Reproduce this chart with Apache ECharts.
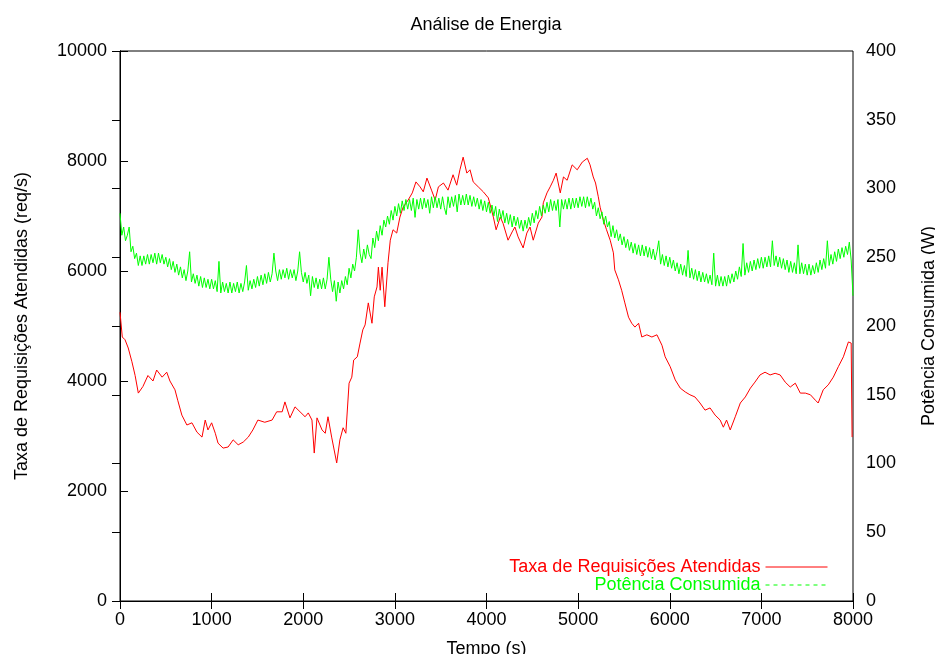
<!DOCTYPE html>
<html>
<head>
<meta charset="utf-8">
<script src="https://cdn.jsdelivr.net/npm/echarts@6/dist/echarts.min.js"></script>
<style>
html,body{margin:0;padding:0;background:#fff;}
#chart{width:935px;height:654px;}
</style>
</head>
<body>
<div id="chart"></div>
<script>
// ---- data ----
var titleText = 'Análise de Energia';
var xTicks = [0,1000,2000,3000,4000,5000,6000,7000,8000];
var yLeftTicks = [0,2000,4000,6000,8000,10000];
var yRightTicks = [0,50,100,150,200,250,300,350,400];

var reqTime = [0,25,55,90,130,165,200,250,305,360,400,460,510,545,600,630,675,730,785,840,895,930,960,1000,1040,1070,1125,1180,1235,1290,1345,1400,1450,1505,1580,1660,1710,1770,1800,1855,1910,1965,2020,2055,2095,2120,2150,2205,2240,2270,2310,2365,2400,2435,2465,2500,2530,2550,2590,2620,2650,2675,2710,2750,2775,2805,2820,2840,2860,2890,2925,2950,2980,3020,3055,3090,3145,3190,3230,3275,3310,3350,3400,3440,3475,3530,3580,3635,3675,3710,3745,3785,3820,3855,3910,3965,4020,4075,4105,4150,4180,4235,4280,4310,4345,4400,4440,4475,4510,4565,4605,4620,4660,4695,4730,4760,4805,4840,4880,4935,4990,5045,5100,5130,5165,5190,5220,5240,5275,5310,5350,5385,5400,5440,5475,5510,5550,5585,5620,5660,5695,5750,5805,5860,5915,5950,6005,6060,6115,6170,6220,6275,6330,6385,6440,6495,6550,6585,6620,6660,6715,6770,6825,6880,6930,6985,7040,7095,7150,7205,7260,7315,7370,7425,7480,7535,7590,7620,7675,7730,7785,7840,7895,7950,7980,7990];
var reqRate = [5250,4800,4750,4600,4350,4100,3780,3900,4100,4000,4200,4070,4160,4000,3840,3650,3380,3200,3240,3070,2980,3290,3110,3240,3050,2870,2780,2800,2930,2840,2890,2980,3110,3290,3250,3290,3440,3440,3620,3330,3530,3440,3350,3420,3290,2690,3330,3110,3050,3350,2980,2510,2930,3150,3050,3960,4070,4380,4440,4690,4930,5020,5420,5050,5530,5710,6070,5650,6070,5350,6150,6560,6750,6690,6980,7160,7290,7420,7620,7530,7440,7690,7470,7290,7530,7600,7470,7750,7560,7840,8070,7780,7840,7620,7530,7440,7330,6980,6750,6980,6870,6560,6710,6800,6620,6420,6690,6800,6560,6870,6980,7240,7420,7530,7650,7780,7420,7710,7650,7930,7840,7980,8050,7930,7710,7600,7350,7160,6930,6750,6560,6330,6020,5840,5650,5420,5160,5050,4980,5050,4800,4840,4800,4840,4650,4440,4260,4020,3870,3800,3750,3710,3600,3470,3510,3380,3290,3160,3290,3110,3350,3600,3710,3870,3980,4110,4160,4110,4140,4110,3980,3890,3960,3780,3780,3750,3650,3600,3840,3930,4070,4260,4440,4710,4690,2980];

// power samples every 20 s from 0 s to 7980 s, then the final sample at 8000 s
var powStep = 20;
var powWatts = [
282,266,272,262,266,  272,254,258,249,253,  244,251,244,251,245,  252,245,252,246,253,
245,253,246,252,245,  250,243,249,241,247,  239,245,237,243,235,  241,233,240,254,232,
238,231,237,229,236,  228,235,228,234,227,  234,227,233,225,247,  224,232,225,231,224,
232,224,231,225,232,  224,231,225,232,244,  226,233,227,234,228,  236,229,237,230,238,
231,239,232,238,253,  240,233,241,234,241,  235,242,234,241,235,  241,233,240,254,239,
232,239,231,237,222,  236,228,235,227,234,  227,235,227,234,250,  234,225,233,218,232,
224,233,227,236,230,  242,235,245,240,250,  270,253,246,256,249,  259,252,249,264,257,
269,262,273,266,277,  272,280,274,284,277,  287,280,289,282,291,  284,292,285,292,284,
293,279,292,285,293,  285,293,286,292,282,  294,286,294,286,293,  285,294,286,281,294,
286,294,287,295,283,  296,288,295,288,296,  288,295,287,294,287,  293,285,292,284,291,
283,290,282,288,280,  287,276,285,278,284,  275,282,274,281,272,  280,273,279,271,277,
269,277,271,279,273,  282,275,284,278,287,  280,288,282,290,283,  292,284,291,284,292,
272,292,285,292,285,  293,285,293,286,293,  286,294,287,294,286,  294,287,293,285,290,
280,286,278,283,274,  280,272,276,265,273,  264,270,262,267,259,  265,257,263,255,261,
253,260,252,259,251,  259,251,258,250,257,  249,256,248,254,262,  245,252,244,251,243,
250,242,248,240,246,  238,245,237,244,236,  255,235,242,234,241,  233,240,232,239,232,
238,231,237,230,253,  229,237,229,236,229,  236,229,237,231,238,  232,240,234,243,236,
260,237,246,239,247,  240,248,241,249,242,  250,242,250,243,251,  243,262,244,251,243,
250,242,249,241,248,  239,247,239,246,238,  259,238,246,238,245,  237,245,237,244,238,
246,239,248,241,249,  242,262,244,252,245,  254,247,256,249,257,  250,258,252,261,248,
222];

var seriesNames = ['Taxa de Requisições Atendidas','Potência Consumida'];
var seriesColors = ['#ff0000','#00ff00'];
var xName = 'Tempo (s)';
var yLeftName = 'Taxa de Requisições Atendidas (req/s)';
var yRightName = 'Potência Consumida (W)';

function zip(a,b){var r=[];for(var i=0;i<a.length;i++){r.push([a[i],b[i]]);}return r;}
var powData = [];
for (var i=0;i<powWatts.length;i++){
  var t = (i === powWatts.length-1) ? xTicks[xTicks.length-1] : i*powStep;
  powData.push([t, powWatts[i]]);
}

var FONT = '"Liberation Sans", Arial, Helvetica, sans-serif';
var FS = 18;
var chart = echarts.init(document.getElementById('chart'), null, {renderer:'canvas'});
var tickLen = 8;
function plain(v){return String(v);}
chart.setOption({
  animation:false,
  backgroundColor:'#ffffff',
  textStyle:{fontFamily:FONT,color:'#000'},
  title:{text:titleText,left:481,textAlign:'center',top:11,
    textStyle:{fontFamily:FONT,fontSize:FS,fontWeight:'normal',color:'#000'}},
  grid:{left:120,right:82,top:51,bottom:53,containLabel:false,outerBoundsMode:'none',
    show:true,borderColor:'#000',borderWidth:1,backgroundColor:'transparent'},
  legend:{
    orient:'vertical',right:102,top:553,align:'right',itemGap:0,
    itemWidth:62,itemHeight:17,
    textStyle:{fontFamily:FONT,fontSize:FS,lineHeight:17},
    data:[
      {name:seriesNames[0],textStyle:{color:seriesColors[0]},
       itemStyle:{opacity:0},lineStyle:{color:seriesColors[0],width:1,type:'solid',opacity:1}},
      {name:seriesNames[1],textStyle:{color:seriesColors[1]},
       itemStyle:{opacity:0},lineStyle:{color:seriesColors[1],width:1,type:[4,4],opacity:1}}
    ]
  },
  xAxis:[
    {type:'value',min:xTicks[0],max:xTicks[xTicks.length-1],interval:1000,position:'bottom',
     name:xName,nameLocation:'middle',nameGap:39,nameTextStyle:{fontFamily:FONT,fontSize:FS,color:'#000'},
     axisLine:{show:true,lineStyle:{color:'#000',width:1}},
     axisTick:{show:true,inside:true,length:tickLen,lineStyle:{color:'#000'}},
     axisLabel:{color:'#000',fontFamily:FONT,fontSize:FS,margin:10,formatter:plain},
     splitLine:{show:false}},
    {type:'value',min:xTicks[0],max:xTicks[xTicks.length-1],interval:1000,position:'top',
     axisLine:{show:true,lineStyle:{color:'#000',width:1}},
     axisTick:{show:true,inside:true,length:tickLen,lineStyle:{color:'#000'}},
     axisLabel:{show:false},splitLine:{show:false}}
  ],
  yAxis:[
    {type:'value',min:yLeftTicks[0],max:yLeftTicks[yLeftTicks.length-1],interval:2000,position:'left',
     name:yLeftName,nameLocation:'middle',nameGap:89,nameRotate:90,
     nameTextStyle:{fontFamily:FONT,fontSize:FS,color:'#000'},
     axisLine:{show:true,lineStyle:{color:'#000',width:1}},
     axisTick:{show:true,inside:true,length:tickLen,lineStyle:{color:'#000'}},
     axisLabel:{color:'#000',fontFamily:FONT,fontSize:FS,margin:13,formatter:plain},
     splitLine:{show:false}},
    {type:'value',min:yRightTicks[0],max:yRightTicks[yRightTicks.length-1],interval:50,position:'right',
     name:yRightName,nameLocation:'middle',nameGap:67,nameRotate:90,
     nameTextStyle:{fontFamily:FONT,fontSize:FS,color:'#000'},
     axisLine:{show:true,lineStyle:{color:'#000',width:1}},
     axisTick:{show:true,inside:true,length:tickLen,lineStyle:{color:'#000'}},
     axisLabel:{color:'#000',fontFamily:FONT,fontSize:FS,margin:13,formatter:plain},
     splitLine:{show:false}}
  ],
  series:[
    {name:seriesNames[0],type:'line',xAxisIndex:0,yAxisIndex:0,data:zip(reqTime,reqRate),
     showSymbol:false,symbol:'none',color:seriesColors[0],lineStyle:{color:seriesColors[0],width:1},z:3},
    {name:seriesNames[1],type:'line',xAxisIndex:0,yAxisIndex:1,data:powData,
     showSymbol:false,symbol:'none',color:seriesColors[1],lineStyle:{color:seriesColors[1],width:1},z:4}
  ]
});
</script>
</body>
</html>
